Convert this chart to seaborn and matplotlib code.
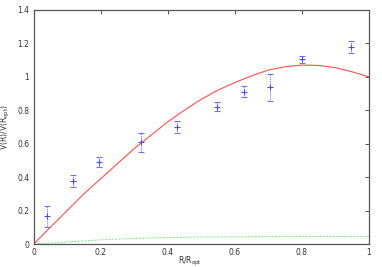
import matplotlib
matplotlib.use("Agg")
import matplotlib.pyplot as plt
import seaborn as sns
import numpy as np
import pandas as pd

# observed points
r_obs = [0.04, 0.117, 0.196, 0.322, 0.429, 0.548, 0.628, 0.705, 0.801, 0.946]
v_obs = [0.165, 0.377, 0.491, 0.609, 0.699, 0.822, 0.912, 0.936, 1.106, 1.178]
v_err = [0.063, 0.034, 0.030, 0.057, 0.037, 0.027, 0.034, 0.080, 0.021, 0.035]

# model curve (red)
r_model = [0.0, 0.05, 0.1, 0.15, 0.2, 0.25, 0.3, 0.35, 0.4, 0.45, 0.5, 0.55, 0.6,
           0.65, 0.7, 0.75, 0.8, 0.85, 0.9, 0.95, 1.0]
v_model = [0.0, 0.10, 0.20, 0.30, 0.39, 0.48, 0.57, 0.65, 0.73, 0.80, 0.865, 0.92, 0.965,
           1.005, 1.04, 1.06, 1.07, 1.068, 1.055, 1.03, 1.0]

# second component (green dashed)
r_comp = [0.0, 0.05, 0.1, 0.15, 0.2, 0.25, 0.3, 0.4, 0.5, 0.6, 0.7, 0.8, 0.9, 1.0]
v_comp = [0.0, 0.006, 0.012, 0.019, 0.025, 0.030, 0.034, 0.039, 0.042, 0.043, 0.044, 0.045, 0.045, 0.045]

sns.set_style("white")
plt.rcParams['font.family'] = ['DejaVu Sans']

fig = plt.figure(figsize=(3.82, 2.67), dpi=100)
ax = fig.add_axes([0.088, 0.086, 0.877, 0.877])

df_model = pd.DataFrame({"r": r_model, "v": v_model})
df_comp = pd.DataFrame({"r": r_comp, "v": v_comp})
df_obs = pd.DataFrame({"r": r_obs, "v": v_obs, "e": v_err})

sns.lineplot(data=df_model, x="r", y="v", ax=ax, color="#ff3030", linewidth=0.8, alpha=0.85)
sns.lineplot(data=df_comp, x="r", y="v", ax=ax, color="#44dd44", linewidth=0.7,
             linestyle=(0, (2, 1.5)), alpha=0.7)
eb = ax.errorbar(df_obs["r"], df_obs["v"], yerr=df_obs["e"], fmt="+",
                 color="#4a4aff", markersize=4, markeredgewidth=0.8,
                 ecolor="#7070ff", elinewidth=0.7, capsize=2.2, capthick=0.6)
eb[2][0].set_linestyle((0, (1, 1)))

ax.set_xlim(0, 1)
ax.set_ylim(0, 1.4)
ax.set_xticks([0, 0.2, 0.4, 0.6, 0.8, 1])
ax.set_xticklabels(["0", "0.2", "0.4", "0.6", "0.8", "1"])
ax.set_yticks([0, 0.2, 0.4, 0.6, 0.8, 1.0, 1.2, 1.4])
ax.set_yticklabels(["0", "0.2", "0.4", "0.6", "0.8", "1", "1.2", "1.4"])
ax.tick_params(direction="in", length=3, width=0.6, labelsize=5.5, colors="#333333",
               top=True, right=True, pad=3)
ax.tick_params(axis="x", pad=2.5)
for s in ax.spines.values():
    s.set_visible(True)
    s.set_color("#555555")
    s.set_linewidth(0.9)

ax.set_xlabel("R/R$_{\\mathrm{opt}}$", fontsize=5.5, color="#333333")
ax.xaxis.set_label_coords(0.467, -0.048)
ax.set_ylabel("V(R)/V(R$_{\\mathrm{opt}}$)", fontsize=5.5, color="#333333", labelpad=4)

fig.savefig("out.png", dpi=100)
